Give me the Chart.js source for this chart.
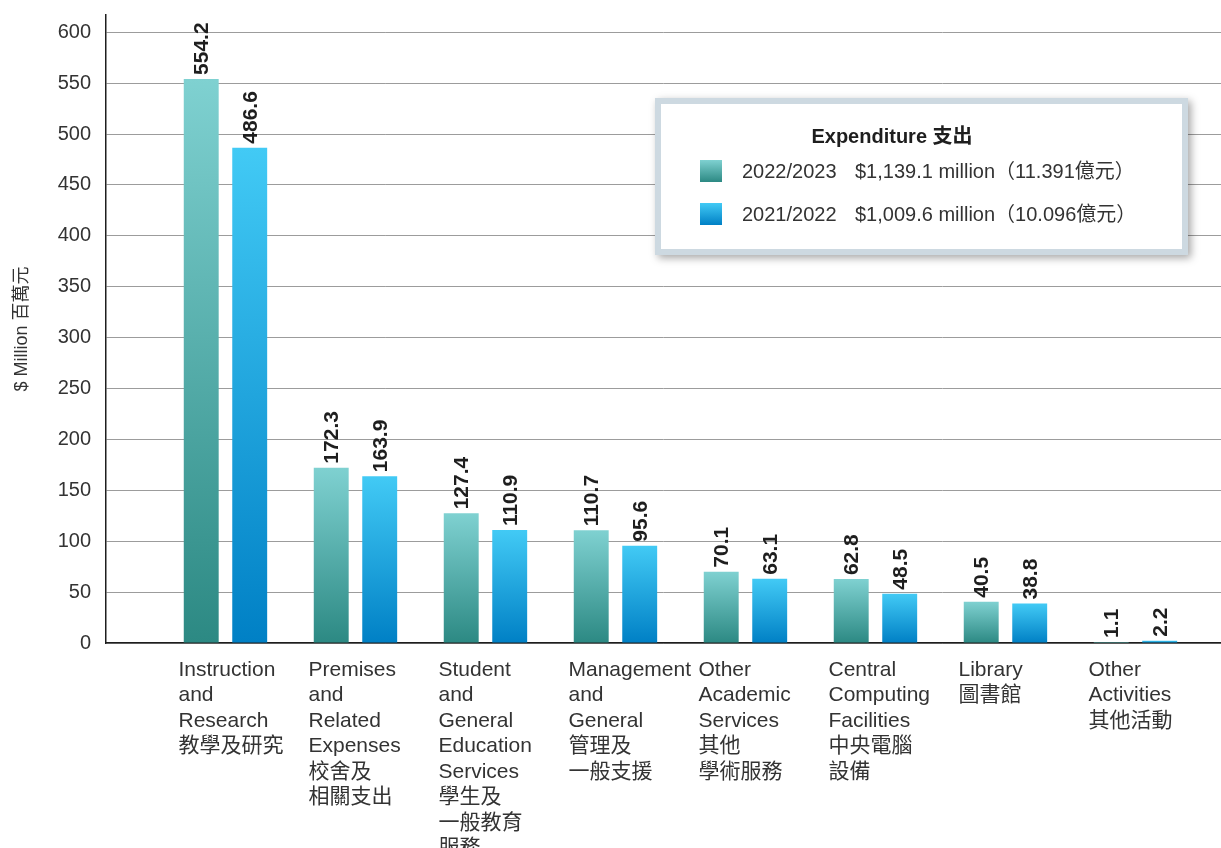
<!DOCTYPE html>
<html>
<head>
<meta charset="utf-8">
<script src="https://cdn.jsdelivr.net/npm/chart.js@4.4.1/dist/chart.umd.min.js"></script>
<style>
  html, body { margin: 0; padding: 0; background: #fff; }
  #wrap { width: 1221px; height: 848px; position: relative; }
</style>
</head>
<body>
<div id="wrap"><canvas id="myChart"></canvas></div>
<script>
const FONT = '"Liberation Sans", "Noto Sans CJK TC", sans-serif'

const categories = [
  ['Instruction', 'and', 'Research', '教學及研究'],
  ['Premises', 'and', 'Related', 'Expenses', '校舍及', '相關支出'],
  ['Student', 'and', 'General', 'Education', 'Services', '學生及', '一般教育', '服務'],
  ['Management', 'and', 'General', '管理及', '一般支援'],
  ['Other', 'Academic', 'Services', '其他', '學術服務'],
  ['Central', 'Computing', 'Facilities', '中央電腦', '設備'],
  ['Library', '圖書館'],
  ['Other', 'Activities', '其他活動']
]
const seriesNames = ['2022/2023', '2021/2022']
const seriesTotals = ['$1,139.1 million（11.391億元）', '$1,009.6 million（10.096億元）']
const values2223 = [554.2, 172.3, 127.4, 110.7, 70.1, 62.8, 40.5, 1.1]
const values2122 = [486.6, 163.9, 110.9, 95.6, 63.1, 48.5, 38.8, 2.2]
const yTicks = [0, 50, 100, 150, 200, 250, 300, 350, 400, 450, 500, 550, 600]
const legendTitle = 'Expenditure 支出'
const yTitle = '$ Million 百萬元'

const tealTop = '#7fd1d1', tealBottom = '#2c8983'
const blueTop = '#42caf5', blueBottom = '#0080c5'

const ctx = document.querySelector('#myChart')

// gradient runs from bar top down to the baseline
const barFill = (top, bottom) => (c) => {
  const chart = c.chart
  if (!chart.chartArea || c.type !== 'data' || !c.raw) return bottom
  const y = chart.scales.y
  const y0 = y.getPixelForValue(0)
  const y1 = y.getPixelForValue(c.raw.y)
  if (!isFinite(y0) || !isFinite(y1) || y0 - y1 < 1) return top
  const g = chart.ctx.createLinearGradient(0, y1, 0, y0)
  g.addColorStop(0, top)
  g.addColorStop(1, bottom)
  return g
}

const toPoints = (arr) => arr.map((v, i) => ({ x: i, y: v }))

const valueLabels = {
  id: 'valueLabels',
  afterDatasetsDraw(chart) {
    const c = chart.ctx
    c.save()
    c.font = 'bold 21px ' + FONT
    c.fillStyle = '#1e1e1e'
    c.textAlign = 'left'
    c.textBaseline = 'middle'
    chart.data.datasets.forEach((ds, di) => {
      chart.getDatasetMeta(di).data.forEach((bar, i) => {
        c.save()
        c.translate(bar.x, bar.y - 4)
        c.rotate(-Math.PI / 2)
        c.fillText(ds.data[i].y.toFixed(1), 0, 1)
        c.restore()
      })
    })
    c.restore()
  }
}

const legendBox = {
  id: 'legendBox',
  afterDraw(chart) {
    const c = chart.ctx
    const x = 655, y = 98, w = 533, h = 157
    c.save()
    c.shadowColor = 'rgba(0,0,0,0.35)'
    c.shadowBlur = 8
    c.shadowOffsetX = 3
    c.shadowOffsetY = 3
    c.fillStyle = '#cdd9e1'
    c.fillRect(x, y, w, h)
    c.restore()
    c.save()
    c.fillStyle = '#fff'
    c.fillRect(x + 6, y + 6, w - 12, h - 12)
    c.fillStyle = '#1e1e1e'
    c.font = 'bold 20px ' + FONT
    c.textAlign = 'center'
    c.textBaseline = 'middle'
    c.fillText(legendTitle, 892, 137)
    const tops = [tealTop, blueTop], bottoms = [tealBottom, blueBottom]
    const rows = [171, 214]
    rows.forEach((ry, i) => {
      const g = c.createLinearGradient(0, ry - 11, 0, ry + 11)
      g.addColorStop(0, tops[i])
      g.addColorStop(1, bottoms[i])
      c.fillStyle = g
      c.fillRect(700, ry - 11, 22, 22)
      c.fillStyle = '#333'
      c.font = '20px ' + FONT
      c.textAlign = 'left'
      c.fillText(seriesNames[i], 742, ry + 1)
      c.fillText(seriesTotals[i], 855, ry + 1)
    })
    c.restore()
  }
}

window.chart = new Chart(ctx, {
  type: 'bar',
  data: {
    datasets: [{
      label: seriesNames[0],
      data: toPoints(values2223),
      backgroundColor: barFill(tealTop, tealBottom),
      barPercentage: 0.72,
      categoryPercentage: 0.746
    }, {
      label: seriesNames[1],
      data: toPoints(values2122),
      backgroundColor: barFill(blueTop, blueBottom),
      barPercentage: 0.72,
      categoryPercentage: 0.746
    }]
  },
  options: {
    responsive: true,
    maintainAspectRatio: false,
    animation: false,
    layout: { padding: { top: 15, right: 0, left: 0, bottom: 0 } },
    plugins: {
      legend: { display: false },
      tooltip: { enabled: false }
    },
    scales: {
      x: {
        type: 'linear',
        offset: false,
        min: -0.919,
        max: 7.658,
        grid: { display: false, drawTicks: false },
        border: { color: '#1e1e1e', width: 1.5 },
        ticks: {
          stepSize: 1,
          includeBounds: false,
          autoSkip: false,
          maxRotation: 0,
          minRotation: 0,
          align: 'start',
          labelOffset: -47,
          padding: 14,
          color: '#333',
          font: { family: FONT, size: 21, lineHeight: 1.214 },
          callback: (v) => (Number.isInteger(v) && v >= 0 && v < categories.length) ? categories[v] : ''
        },
        afterFit: (s) => { s.height = 205; s.paddingLeft = 0; s.paddingRight = 0 }
      },
      y: {
        min: 0,
        max: 617,
        grid: { color: '#9c9c9c', lineWidth: 1, drawTicks: false },
        border: { color: '#1e1e1e', width: 1.5 },
        afterBuildTicks: (s) => { s.ticks = yTicks.map(v => ({ value: v })) },
        ticks: {
          padding: 15,
          color: '#333',
          font: { family: FONT, size: 20 }
        },
        title: {
          display: true,
          text: yTitle,
          color: '#333',
          font: { family: FONT, size: 18 },
          padding: { top: 11, bottom: 0 }
        },
        afterFit: (s) => { s.width = 106; s.paddingTop = 0; s.paddingBottom = 0 }
      }
    }
  },
  plugins: [valueLabels, legendBox]
})
</script>
</body>
</html>
